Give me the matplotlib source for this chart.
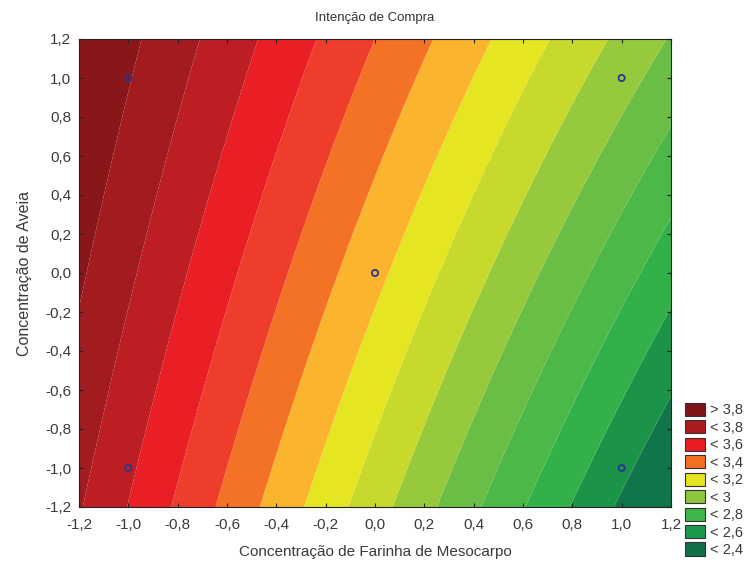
import numpy as np
import matplotlib
matplotlib.use("Agg")
import matplotlib.pyplot as plt
from matplotlib.patches import Patch
from matplotlib.ticker import FuncFormatter

# ---- data ----
# fitted response-surface coefficients (coded variables)
b0 = 3.227      # intercept
bx = -0.49      # Farinha de Mesocarpo (linear)
by = 0.15       # Aveia (linear)
bxx = 0.0       # quadratic x
byy = -0.005    # quadratic y
bxy = 0.056     # interaction

contour_levels = [2.5, 2.6, 2.7, 2.8, 2.9, 3.0, 3.1, 3.2, 3.3, 3.4, 3.5, 3.6, 3.7, 3.8]
band_colors = ["#11744a", "#1c9447", "#32b04a", "#4cb848", "#6abd45", "#97c93d",
               "#c8d92d", "#e6e522", "#fbb42e", "#f37225", "#ef3d2c", "#ea1f25",
               "#bd1e24", "#a21b1f", "#891618"]

legend_labels = ["> 3,8", "< 3,8", "< 3,6", "< 3,4", "< 3,2", "< 3", "< 2,8", "< 2,6", "< 2,4"]
legend_colors = ["#7f1416", "#a91c21", "#ec1c24", "#f37021", "#e6e524", "#8dc63f",
                 "#40b549", "#1a9a4a", "#127047"]

design_x = [-1.0, 1.0, 0.0, -1.0, 1.0]
design_y = [1.0, 1.0, 0.0, -1.0, -1.0]

tick_values = [-1.2, -1.0, -0.8, -0.6, -0.4, -0.2, 0.0, 0.2, 0.4, 0.6, 0.8, 1.0, 1.2]

title = "Intenção de Compra"
xlabel = "Concentração de Farinha de Mesocarpo"
ylabel = "Concentração de Aveia"

# ---- figure ----
plt.rcParams['font.family'] = ['Liberation Sans', 'DejaVu Sans']
fig = plt.figure(figsize=(7.54, 5.63), dpi=100)
ax = fig.add_axes([79/754, 1-507/563, (671-79)/754, (507-39)/563])

xs = np.linspace(-1.2, 1.2, 400)
ys = np.linspace(-1.2, 1.2, 400)
X, Y = np.meshgrid(xs, ys)
Z = b0 + bx*X + by*Y + bxx*X**2 + byy*Y**2 + bxy*X*Y

levels = [Z.min() - 1.0] + contour_levels + [Z.max() + 1.0]
ax.contourf(X, Y, Z, levels=levels, colors=band_colors, antialiased=True)

ax.scatter(design_x, design_y, s=20, facecolors='none', edgecolors='#2b3590',
           linewidths=1.3, zorder=5)

ax.set_xlim(-1.2, 1.2)
ax.set_ylim(-1.2, 1.2)
ax.set_xticks(tick_values)
ax.set_yticks(tick_values)
fmt = FuncFormatter(lambda v, p: ("%.1f" % (round(v, 1) + 0.0)).replace('.', ','))
ax.xaxis.set_major_formatter(fmt)
ax.yaxis.set_major_formatter(fmt)
ax.tick_params(direction='in', top=True, right=True, length=3, width=0.8,
               labelsize=11, labelcolor='#3a3a3a', color='#222222')
ax.tick_params(axis='x', pad=8)
ax.tick_params(axis='y', pad=5.5)
for s in ax.spines.values():
    s.set_linewidth(0.8)
    s.set_color('#222222')

ax.set_title(title, fontsize=9.5, color='#333333', pad=13)
ax.set_xlabel(xlabel, fontsize=11, color='#3a3a3a', va='center')
ax.xaxis.set_label_coords(0.5, (507-552)/468)
ax.set_ylabel(ylabel, fontsize=11.5, color='#3a3a3a', va='center', ha='center')
ax.yaxis.set_label_coords((25-79)/592, 0.5)

handles = [Patch(facecolor=c, edgecolor='#333333', linewidth=0.8) for c in legend_colors]
fig.legend(handles, legend_labels, loc='lower left',
           bbox_to_anchor=(685/754, 6/563), frameon=False,
           fontsize=10.5, handlelength=1.4, handleheight=1.0,
           labelspacing=0.2, handletextpad=0.3, borderpad=0, borderaxespad=0,
           labelcolor='#3a3a3a')

fig.savefig("out.png", dpi=100)
